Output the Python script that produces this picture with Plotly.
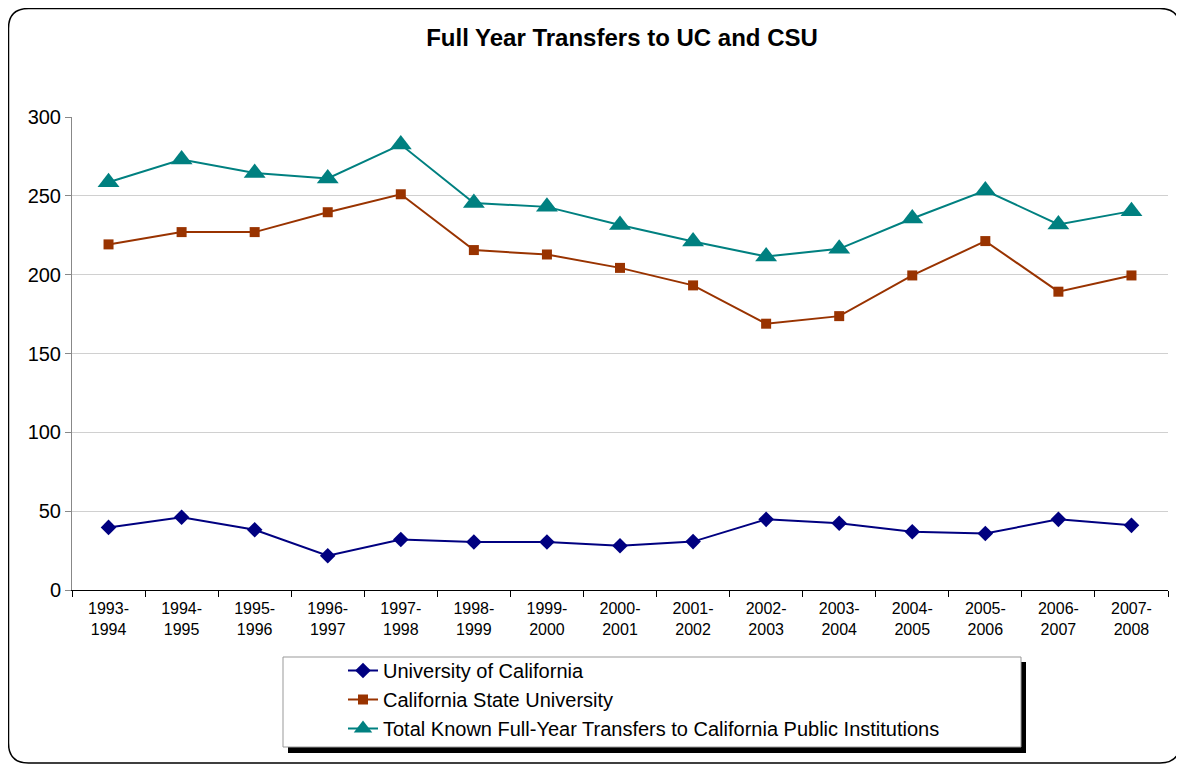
import plotly.graph_objects as go

years = ["1993-<br>1994", "1994-<br>1995", "1995-<br>1996", "1996-<br>1997", "1997-<br>1998",
         "1998-<br>1999", "1999-<br>2000", "2000-<br>2001", "2001-<br>2002", "2002-<br>2003",
         "2003-<br>2004", "2004-<br>2005", "2005-<br>2006", "2006-<br>2007", "2007-<br>2008"]
uc = [39.7, 46.1, 38.2, 21.7, 32.0, 30.4, 30.4, 28.1, 30.7, 44.8, 42.3, 36.9, 35.8, 44.8, 41.0]
csu = [219.2, 227.0, 227.0, 239.6, 251.0, 215.6, 212.8, 204.3, 193.2, 168.9, 173.7, 199.5, 221.3, 189.2, 199.5]
total = [258.6, 273.0, 264.5, 261.0, 282.5, 245.5, 243.0, 231.5, 221.0, 211.5, 216.4, 235.6, 253.4, 231.8, 240.3]
y_ticks = [0, 50, 100, 150, 200, 250, 300]

FONT = "Liberation Sans, Arial, sans-serif"

fig = go.Figure()
fig.add_trace(go.Scatter(x=years, y=uc, name="University of California", mode="lines+markers",
                         line=dict(color="#000080", width=2),
                         marker=dict(symbol="diamond", size=12, color="#000080")))
fig.add_trace(go.Scatter(x=years, y=csu, name="California State University", mode="lines+markers",
                         line=dict(color="#993300", width=2),
                         marker=dict(symbol="square", size=10, color="#993300")))
fig.add_trace(go.Scatter(x=years, y=total,
                         name="Total Known Full-Year Transfers to California Public Institutions",
                         mode="lines+markers",
                         line=dict(color="#008080", width=2),
                         marker=dict(symbol="triangle-up", size=19, color="#008080")))

OFF = 8  # page body margin
W, H = 1184, 765
# desired page-pixel plot box
PL, PR, PT, PB = 72, 1168, 117, 590
L = PL - OFF
T = PT - OFF
R = W - (PR - OFF)
B = H - (PB - OFF)
pw, ph = W - L - R, H - T - B

def px(x):
    return (x - OFF - L) / pw

def py(y):
    return (H - B - (y - OFF)) / ph

# outer rounded border
x0, x1, y0, y1 = px(8.5), px(1180), py(8.5), py(763)
rx, ry = 20 / pw, 20 / ph
path = (f"M {x0+rx} {y0} L {x1-rx} {y0} Q {x1} {y0} {x1} {y0-ry} "
        f"L {x1} {y1+ry} Q {x1} {y1} {x1-rx} {y1} L {x0+rx} {y1} Q {x0} {y1} {x0} {y1+ry} "
        f"L {x0} {y0-ry} Q {x0} {y0} {x0+rx} {y0} Z")
shapes = [
    dict(type="path", xref="paper", yref="paper", path=path,
         line=dict(color="#000000", width=1.5), layer="below"),
    # legend shadow
    dict(type="rect", xref="paper", yref="paper", x0=px(288), x1=px(1026), y0=py(662), y1=py(753),
         fillcolor="#000000", line=dict(width=0), layer="above"),
    # legend box
    dict(type="rect", xref="paper", yref="paper", x0=px(283), x1=px(1021), y0=py(657), y1=py(747),
         fillcolor="#ffffff", line=dict(color="#999999", width=1), layer="above"),
]

fig.update_layout(
    width=W, height=H,
    margin=dict(l=L, r=R, t=T, b=B),
    paper_bgcolor="white", plot_bgcolor="white",
    font=dict(family=FONT, color="#000000"),
    title=dict(text="<b>Full Year Transfers to UC and CSU</b>", x=(622 - OFF) / W, xanchor="center",
               y=1 - (38 - OFF) / H, yanchor="middle", font=dict(size=24, family=FONT)),
    showlegend=True,
    legend=dict(x=px(343), xanchor="left", y=py(651), yanchor="top",
                bgcolor="rgba(0,0,0,0)", borderwidth=0,
                font=dict(size=20, family=FONT), tracegroupgap=0),
    shapes=shapes,
)
fig.update_xaxes(type="category", range=[-0.5, len(years) - 0.5], tickson="boundaries",
                 ticks="outside", ticklen=6,
                 tickcolor="#000000", showline=True, linecolor="#000000", linewidth=1,
                 showgrid=False, tickfont=dict(size=16), tickangle=0, ticklabelstandoff=4)
fig.update_yaxes(range=[0, 300], tickvals=y_ticks, ticks="outside", ticklen=6, tickcolor="#888888",
                 showline=True, linecolor="#888888", linewidth=1,
                 showgrid=True, gridcolor="#d0d0d0", gridwidth=1,
                 tickfont=dict(size=20), zeroline=False)

fig.write_html("out.html")
